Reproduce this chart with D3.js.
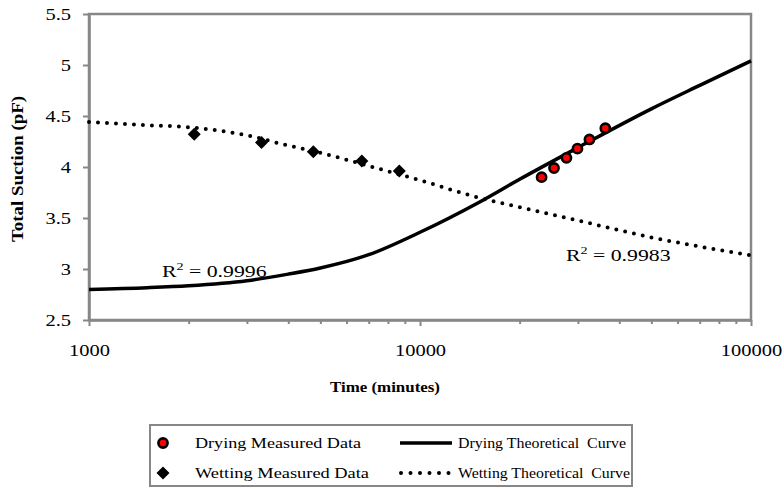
<!DOCTYPE html>
<html>
<head>
<meta charset="utf-8">
<script src="https://cdn.jsdelivr.net/npm/d3@7"></script>
<style>
  html, body { margin: 0; padding: 0; background: #fff; }
  svg { display: block; font-family: "Liberation Serif", "Times New Roman", serif; }
</style>
</head>
<body>
<svg id="chart" width="784" height="489"></svg>
<script>
// ---- data ----
const dryTime = [23300, 25400, 27700, 29900, 32500, 36300];
const dryPF   = [3.90, 3.99, 4.09, 4.18, 4.27, 4.38];
const wetTime = [2080, 3320, 4760, 6670, 8660];
const wetPF   = [4.32, 4.24, 4.15, 4.06, 3.96];
const curveTime = [1000, 1500, 2000, 3000, 4000, 5000, 7000, 10000, 15000, 20000, 30000, 50000, 70000, 100000];
const dryCurve  = [2.80, 2.817, 2.836, 2.885, 2.95, 3.01, 3.14, 3.36, 3.65, 3.88, 4.19, 4.57, 4.80, 5.04];
const wetCurve  = [4.44, 4.41, 4.39, 4.31, 4.21, 4.14, 4.01, 3.87, 3.70, 3.605, 3.475, 3.31, 3.22, 3.135];
const xTicks = [1000, 10000, 100000];
const yTicks = [2.5, 3, 3.5, 4, 4.5, 5, 5.5];
const r2Labels = ["0.9996", "0.9983"];
const legendLabels = ["Drying Measured Data", "Wetting Measured Data", "Drying Theoretical  Curve", "Wetting Theoretical  Curve"];

const svg = d3.select("#chart");
const L = 89, R = 751, T = 14, B = 320;
const AX = "#878787";
const STRETCH = 1.28;

const x = d3.scaleLog().domain([1000, 100000]).range([L, R]);
const y = d3.scaleLinear().domain([2.5, 5.5]).range([B, T]);

// frame
svg.append("rect").attr("x", L).attr("y", T).attr("width", R - L).attr("height", B - T)
  .attr("fill", "none").attr("stroke", AX).attr("stroke-width", 2.5);

// minor x ticks
const minor = [];
[1000, 10000].forEach(d => { for (let k = 2; k <= 9; k++) minor.push(d * k); });
svg.append("g").attr("transform", `translate(0,${B})`)
  .call(d3.axisBottom(x).tickValues(minor).tickSize(4).tickSizeOuter(0).tickFormat(""))
  .call(g => g.select(".domain").remove())
  .call(g => g.selectAll("line").attr("stroke", AX).attr("stroke-width", 2));

// major x ticks
const gx = svg.append("g").attr("transform", `translate(0,${B})`)
  .call(d3.axisBottom(x).tickValues(xTicks).tickSize(6).tickSizeOuter(0).tickFormat(d3.format("d")).tickPadding(19));
gx.select(".domain").attr("stroke", AX).attr("stroke-width", 2.5);
gx.selectAll("line").attr("stroke", AX).attr("stroke-width", 2);
gx.selectAll("text").attr("font-size", 16).attr("fill", "#000").attr("font-family", "Liberation Serif").attr("dy", "0.7em");

// y axis
const gy = svg.append("g").attr("transform", `translate(${L},0)`)
  .call(d3.axisLeft(y).tickValues(yTicks).tickSize(6).tickSizeOuter(0).tickPadding(12).tickFormat(d => d));
gy.select(".domain").attr("stroke", AX).attr("stroke-width", 2.5);
gy.selectAll("line").attr("stroke", AX).attr("stroke-width", 2);
gy.selectAll("text").attr("font-size", 16).attr("fill", "#000").attr("font-family", "Liberation Serif").attr("dy", "0.35em");

// curves
const line = d3.line().x(d => x(d[0])).y(d => y(d[1])).curve(d3.curveMonotoneX);
const dryPts = curveTime.map((t, i) => [t, dryCurve[i]]);
const wetPts = curveTime.map((t, i) => [t, wetCurve[i]]);

svg.append("path").attr("d", line(wetPts)).attr("fill", "none").attr("stroke", "#000")
  .attr("stroke-width", 4).attr("stroke-linecap", "round").attr("stroke-dasharray", "0,9");
svg.append("path").attr("d", line(dryPts)).attr("fill", "none").attr("stroke", "#000")
  .attr("stroke-width", 3.5);

// markers
const diamond = s => `M0,${-s}L${s},0L0,${s}L${-s},0Z`;
svg.append("g").selectAll("path").data(wetTime.map((t, i) => [t, wetPF[i]])).join("path")
  .attr("transform", d => `translate(${x(d[0])},${y(d[1])})`)
  .attr("d", diamond(6.5)).attr("fill", "#000");
svg.append("g").selectAll("circle").data(dryTime.map((t, i) => [t, dryPF[i]])).join("circle")
  .attr("cx", d => x(d[0])).attr("cy", d => y(d[1])).attr("r", 4.6)
  .attr("fill", "#ff0000").attr("stroke", "#000").attr("stroke-width", 2.6);

// R² labels
function r2(xp, yp, val) {
  const t = svg.append("text").attr("class", "st").attr("x", xp).attr("y", yp).attr("font-size", 17).attr("fill", "#000");
  t.append("tspan").text("R");
  t.append("tspan").attr("font-size", 11).attr("dy", -7).text("2");
  t.append("tspan").attr("dy", 7).text(" = " + val);
}
r2(162, 277, r2Labels[0]);
r2(566, 261, r2Labels[1]);

// axis titles
svg.append("text").attr("x", 385).attr("y", 392).attr("text-anchor", "middle")
  .attr("font-size", 15).attr("font-weight", "bold").attr("textLength", 110).attr("lengthAdjust", "spacingAndGlyphs")
  .text("Time (minutes)");
svg.append("text").attr("transform", "translate(23,169) rotate(-90)").attr("text-anchor", "middle")
  .attr("font-size", 16).attr("font-weight", "bold").attr("textLength", 146).attr("lengthAdjust", "spacingAndGlyphs")
  .text("Total Suction (pF)");

// legend
const lg = svg.append("g");
lg.append("rect").attr("x", 150).attr("y", 425).attr("width", 482).attr("height", 61)
  .attr("fill", "#fff").attr("stroke", AX).attr("stroke-width", 2);
lg.append("circle").attr("cx", 163).attr("cy", 443).attr("r", 4.6)
  .attr("fill", "#ff0000").attr("stroke", "#000").attr("stroke-width", 2.6);
lg.append("path").attr("transform", "translate(163,473)").attr("d", diamond(6.5)).attr("fill", "#000");
lg.append("line").attr("x1", 400).attr("x2", 452).attr("y1", 443).attr("y2", 443)
  .attr("stroke", "#000").attr("stroke-width", 3.5);
lg.append("line").attr("x1", 401).attr("x2", 449).attr("y1", 473).attr("y2", 473)
  .attr("stroke", "#000").attr("stroke-width", 4).attr("stroke-linecap", "round").attr("stroke-dasharray", "0,9.5");
const lt = [[195, 448, legendLabels[0], 166], [195, 478, legendLabels[1], 174],
            [458, 448, legendLabels[2], 168], [458, 478, legendLabels[3], 172]];
lt.forEach(d => {
  lg.append("text").attr("x", d[0]).attr("y", d[1]).attr("font-size", 14)
    .attr("fill", "#000").style("white-space", "pre")
    .attr("textLength", d[3]).attr("lengthAdjust", "spacingAndGlyphs").text(d[2]);
});

// horizontal stretch of tick / R² text (reference text is wider than natural)
gx.selectAll("text").classed("st", true);
gy.selectAll("text").classed("st", true);
svg.selectAll("text.st").each(function() {
  const len = this.getComputedTextLength();
  d3.select(this).attr("textLength", len * STRETCH).attr("lengthAdjust", "spacingAndGlyphs");
});
</script>
</body>
</html>
